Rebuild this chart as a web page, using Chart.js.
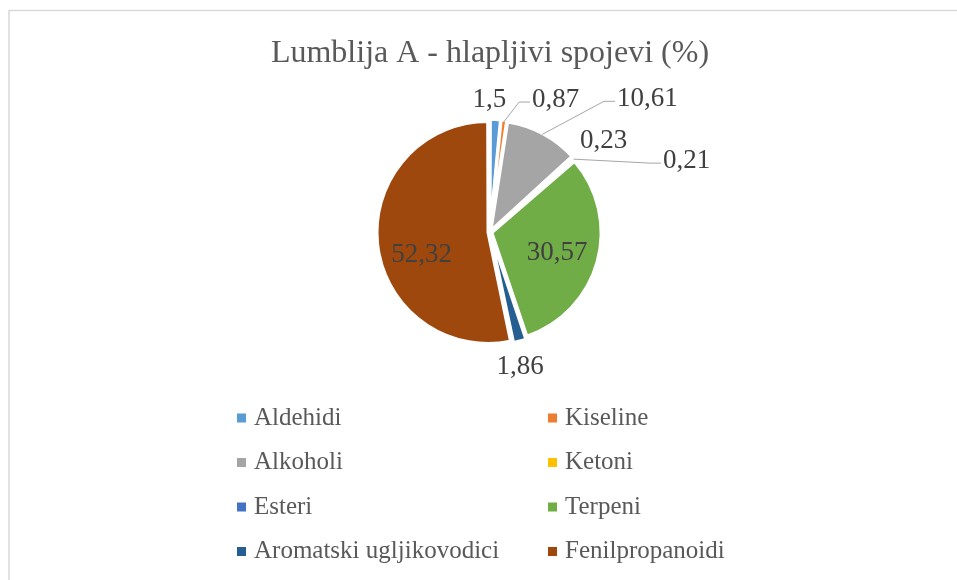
<!DOCTYPE html>
<html><head><meta charset="utf-8">
<script src="https://cdn.jsdelivr.net/npm/chart.js@4/dist/chart.umd.min.js"></script>
<style>html,body{margin:0;padding:0;background:#fff;} canvas{display:block;}</style>
</head><body>
<canvas id="c" width="957" height="580"></canvas>
<script>
// ---- data ----
const chartTitle = 'Lumblija A - hlapljivi spojevi (%)';
const categories = ['Aldehidi', 'Kiseline', 'Alkoholi', 'Ketoni', 'Esteri', 'Terpeni', 'Aromatski ugljikovodici', 'Fenilpropanoidi'];
const values = [1.5, 0.87, 10.61, 0.23, 0.21, 30.57, 1.86, 52.32];
const colors = ['#5B9BD5', '#ED7D31', '#A5A5A5', '#FFC000', '#4472C4', '#70AD47', '#255E91', '#9E480E'];

// ---- label placement (relative to slice geometry) ----
const labelPlacement = [
  { r: 1, dx: -6, dy: -21 },
  { r: 1, dx: 52, dy: -22, leader: true },
  { r: 1, dx: 105, dy: -35, leader: true },
  { r: 1, dx: 31, dy: -17 },
  { r: 1, dx: 113, dy: 2, leader: true },
  { r: 0.63, dx: -1, dy: 2 },
  { r: 1, dx: 1, dy: 28 },
  { r: 0.63, dx: 2, dy: 15 }
];
const fmt = v => String(v).replace('.', ',');
const SERIF = '"Liberation Serif", "Times New Roman", serif';

const framePlugin = {
  id: 'frame',
  beforeDraw(chart) {
    const ctx = chart.ctx;
    ctx.save();
    ctx.fillStyle = '#fff';
    ctx.fillRect(0, 0, chart.width, chart.height);
    ctx.strokeStyle = '#d9d9d9';
    ctx.lineWidth = 1.5;
    ctx.beginPath();
    ctx.moveTo(9, chart.height);
    ctx.lineTo(9, 10.5);
    ctx.lineTo(chart.width, 10.5);
    ctx.stroke();
    ctx.restore();
  }
};

const labelPlugin = {
  id: 'sliceLabels',
  afterDatasetsDraw(chart) {
    const ctx = chart.ctx;
    const meta = chart.getDatasetMeta(0);
    const ds = chart.data.datasets[0];
    ctx.save();
    ctx.font = '27px ' + SERIF;
    ctx.textAlign = 'center';
    ctx.textBaseline = 'middle';
    meta.data.forEach((arc, i) => {
      const p = labelPlacement[i];
      const mid = (arc.startAngle + arc.endAngle) / 2;
      const shift = (ds.offset || 0) / 4;
      const R = arc.outerRadius * p.r + shift;
      const bx = arc.x + Math.cos(mid) * R;
      const by = arc.y + Math.sin(mid) * R;
      const lx = bx + p.dx, ly = by + p.dy;
      const txt = fmt(ds.data[i]);
      if (p.leader) {
        const w = ctx.measureText(txt).width;
        const left = lx - w / 2;
        ctx.strokeStyle = '#a6a6a6';
        ctx.lineWidth = 1;
        ctx.beginPath();
        ctx.moveTo(bx, by);
        ctx.lineTo(left - 13, ly + 2);
        ctx.lineTo(left - 2, ly + 2);
        ctx.stroke();
      }
      ctx.fillStyle = '#404040';
      ctx.fillText(txt, lx, ly);
    });
    ctx.restore();
  }
};

const gridLegendPlugin = {
  id: 'gridLegend',
  afterDraw(chart) {
    const ctx = chart.ctx;
    const ds = chart.data.datasets[0];
    const colX = [237, 548];
    const rowY = [418, 462.5, 507, 551.5];
    ctx.save();
    ctx.font = '25px ' + SERIF;
    ctx.textAlign = 'left';
    ctx.textBaseline = 'middle';
    chart.data.labels.forEach((lab, i) => {
      const x = colX[i % 2], y = rowY[Math.floor(i / 2)];
      ctx.fillStyle = ds.backgroundColor[i];
      ctx.fillRect(x, y - 4.5, 9, 9);
      ctx.fillStyle = '#595959';
      ctx.fillText(lab, x + 17, y);
    });
    ctx.restore();
  }
};

new Chart(document.getElementById('c'), {
  type: 'pie',
  data: {
    labels: categories,
    datasets: [{
      data: values,
      backgroundColor: colors,
      borderColor: '#ffffff',
      borderWidth: 3,
      offset: 8,
      radius: 109
    }]
  },
  options: {
    responsive: false,
    animation: false,
    events: [],
    devicePixelRatio: 1,
    layout: { padding: { left: 140, right: 117, top: 0, bottom: 198 } },
    plugins: {
      legend: { display: false },
      tooltip: { enabled: false },
      title: {
        display: true,
        text: chartTitle,
        color: '#595959',
        font: { family: SERIF, size: 32, weight: 'normal' },
        padding: { top: 34, bottom: 10 }
      }
    }
  },
  plugins: [framePlugin, labelPlugin, gridLegendPlugin]
});
</script>
</body></html>
